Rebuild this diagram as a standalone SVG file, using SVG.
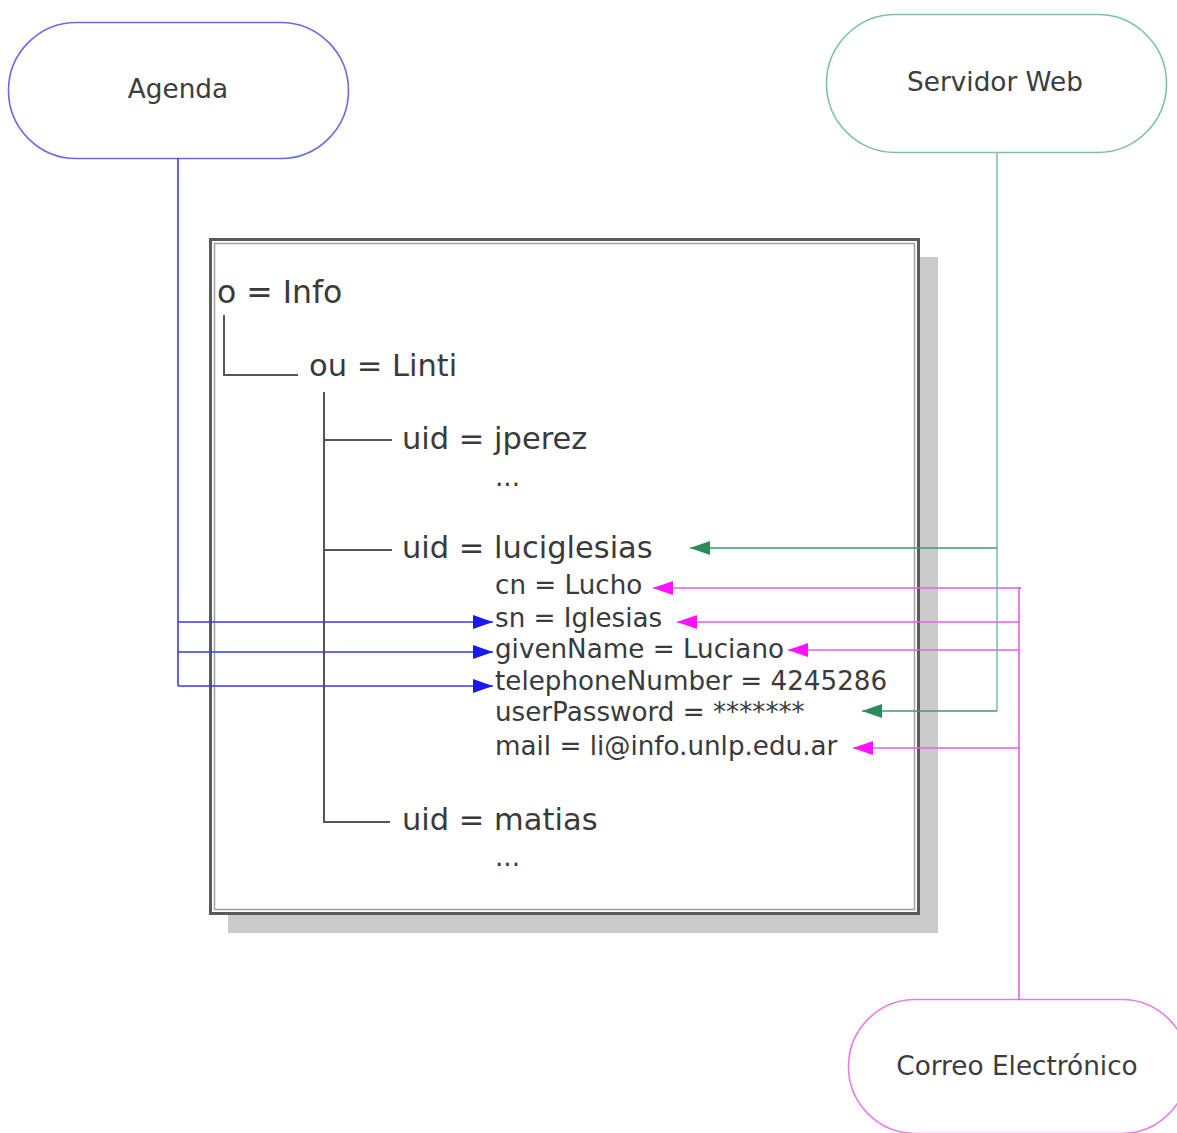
<svg xmlns="http://www.w3.org/2000/svg" width="1177" height="1133" viewBox="0 0 1177 1133">
<style>
.node{fill:#fff;stroke-width:1.6}
.lbl{font-family:"DejaVu Sans",Verdana,sans-serif;font-size:26.3px;fill:#3c3c3c;text-anchor:middle}
.big{font-family:"DejaVu Sans",Verdana,sans-serif;font-size:30.5px;fill:#3a3a3a}
.sm{font-family:"DejaVu Sans",Verdana,sans-serif;font-size:26.2px;fill:#3a3a3a}
.tree{fill:none;stroke:#555;stroke-width:2}
.blue{fill:none;stroke:#3a3ae6;stroke-width:1.6}
.green{fill:none;stroke:#3a9a70;stroke-width:1.6}
.greenv{fill:none;stroke:#7cc2a8;stroke-width:1.6}
.mag{fill:none;stroke:#e060e0;stroke-width:1.6}
</style>
<defs>
<marker id="ab" markerUnits="userSpaceOnUse" markerWidth="20" markerHeight="14" refX="20" refY="7" orient="auto"><path d="M0,0 L20,7 L0,14 Z" fill="#1a1ae6"/></marker>
<marker id="ag" markerUnits="userSpaceOnUse" markerWidth="20" markerHeight="14" refX="20" refY="7" orient="auto"><path d="M0,0 L20,7 L0,14 Z" fill="#2a8a5c"/></marker>
<marker id="am" markerUnits="userSpaceOnUse" markerWidth="20" markerHeight="14" refX="20" refY="7" orient="auto"><path d="M0,0 L20,7 L0,14 Z" fill="#ff10ff"/></marker>
</defs>
<rect width="1177" height="1133" fill="#fff"/>

<g id="directory">
<rect x="228" y="257" width="710" height="676" fill="#cbcbcb"/>
<rect x="210.5" y="239.5" width="708" height="674" fill="#fff" stroke="#5a5a5a" stroke-width="3"/>
<rect x="214.5" y="243.5" width="700" height="666" fill="none" stroke="#a0a0a0" stroke-width="1.5"/>
<path class="tree" d="M224,315 V375 H298"/>
<path class="tree" d="M324,392 V822 H390 M324,440 H392 M324,550 H392"/>
<text class="big" x="217" y="303" style="font-size:31.5px">o = Info</text>
<text class="big" x="309" y="376">ou = Linti</text>
<text class="big" x="402" y="449">uid = jperez</text>
<text class="sm" x="495" y="486">...</text>
<text class="big" x="402" y="558">uid = luciglesias</text>
<text class="sm" x="495" y="594">cn = Lucho</text>
<text class="sm" x="495" y="627">sn = Iglesias</text>
<text class="sm" x="495" y="658">givenName = Luciano</text>
<text class="sm" x="495" y="690">telephoneNumber = 4245286</text>
<text class="sm" x="495" y="721">userPassword = *******</text>
<text class="sm" x="495" y="755">mail = li@info.unlp.edu.ar</text>
<text class="big" x="402" y="830">uid = matias</text>
<text class="sm" x="495" y="866">...</text>
</g>

<g id="agenda">
<rect class="node" x="8.5" y="22.5" width="340" height="136" rx="68" stroke="#6a6ae6"/>
<text class="lbl" x="178" y="98">Agenda</text>
</g>

<g id="servidor-web">
<rect class="node" x="826.5" y="14.5" width="340" height="138" rx="69" stroke="#7fbfa8"/>
<text class="lbl" x="995" y="91">Servidor Web</text>
</g>

<g id="correo">
<rect class="node" x="848.5" y="999.5" width="340" height="134" rx="67" stroke="#e47ee4"/>
<text class="lbl" x="1017" y="1075">Correo Electrónico</text>
</g>

<g id="connectors">
<path class="blue" d="M178,158 V686"/>
<path class="blue" d="M178,622 H493" marker-end="url(#ab)"/>
<path class="blue" d="M178,652 H493" marker-end="url(#ab)"/>
<path class="blue" d="M178,686 H493" marker-end="url(#ab)"/>
<path class="greenv" d="M997,152 V711"/>
<path class="green" d="M997,548 H690" marker-end="url(#ag)"/>
<path class="green" d="M997,711 H862" marker-end="url(#ag)"/>
<path class="mag" d="M1021,588 H1019 V1000"/>
<path class="mag" d="M1021,588 H653" marker-end="url(#am)"/>
<path class="mag" d="M1019,622 H677" marker-end="url(#am)"/>
<path class="mag" d="M1019,650 H788" marker-end="url(#am)"/>
<path class="mag" d="M1019,748 H853" marker-end="url(#am)"/>
</g>
</svg>
